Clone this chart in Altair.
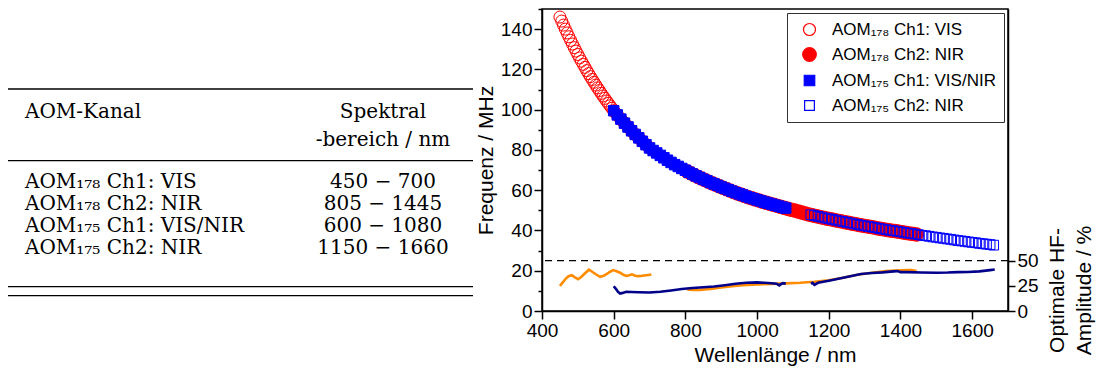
import altair as alt
import pandas as pd

# ---------------- data ----------------
series_names = [
    "AOM\u2081\u2087\u2088 Ch1: VIS",
    "AOM\u2081\u2087\u2088 Ch2: NIR",
    "AOM\u2081\u2087\u2085 Ch1: VIS/NIR",
    "AOM\u2081\u2087\u2085 Ch2: NIR",
]
range_labels = ["450 \u2212 700", "805 \u2212 1445", "600 \u2212 1080", "1150 \u2212 1660"]

# frequency (MHz) vs wavelength (nm)
vis178_nm = list(range(450, 701, 5))
vis178_mhz = [146.0, 144.0, 142.0, 140.0, 138.1, 136.2, 134.4, 132.6, 130.8, 129.1,
              127.4, 125.7, 124.1, 122.5, 121.0, 119.4, 117.9, 116.4, 115.0, 113.6,
              112.2, 110.8, 109.5, 108.1, 106.8, 105.6, 104.3, 103.1, 101.9, 100.7,
              99.5, 98.4, 97.4, 96.3, 95.3, 94.3, 93.3, 92.4, 91.4, 90.5,
              89.5, 88.6, 87.7, 86.8, 86.0, 85.1, 84.3, 83.4, 82.6, 81.8, 81.0]

nir178_nm = list(range(805, 1446, 10))
nir178_mhz = [69.3, 68.4, 67.5, 66.6, 65.8, 65.0, 64.2, 63.4, 62.7, 61.9,
              61.2, 60.5, 59.8, 59.1, 58.4, 57.8, 57.2, 56.5, 56.0, 55.4,
              54.9, 54.3, 53.8, 53.3, 52.8, 52.3, 51.8, 51.3, 50.8, 50.3,
              49.9, 49.4, 48.9, 48.4, 47.9, 47.5, 47.1, 46.7, 46.3, 45.9,
              45.6, 45.2, 44.8, 44.5, 44.1, 43.8, 43.4, 43.1, 42.7, 42.4,
              42.1, 41.8, 41.5, 41.1, 40.8, 40.5, 40.2, 39.9, 39.7, 39.4,
              39.1, 38.8, 38.5, 38.3, 38.0]

ch1_175_nm = list(range(600, 1081, 10))
ch1_175_mhz = [99.5, 97.4, 95.3, 93.3, 91.4, 89.5, 87.7, 86.0, 84.3, 82.6, 81.0,
               79.7, 78.5, 77.3, 76.1, 74.9, 73.8, 72.7, 71.8, 70.8, 69.9,
               68.9, 68.0, 67.1, 66.3, 65.4, 64.7, 63.8, 63.1, 62.4, 61.6,
               60.9, 60.2, 59.5, 58.8, 58.2, 57.6, 56.9, 56.3, 55.8, 55.2,
               54.7, 54.1, 53.6, 53.1, 52.6, 52.1, 51.6, 51.1]

ch2_175_nm = list(range(1150, 1661, 10))
ch2_175_mhz = [47.8, 47.4, 47.0, 46.6, 46.2, 45.8, 45.5, 45.1, 44.7, 44.4,
               44.0, 43.7, 43.3, 43.0, 42.6, 42.3, 42.0, 41.7, 41.4, 41.0,
               40.7, 40.4, 40.1, 39.9, 39.6, 39.3, 39.0, 38.7, 38.5, 38.2,
               37.9, 37.6, 37.4, 37.1, 36.8, 36.6, 36.3, 36.1, 35.8, 35.6,
               35.3, 35.0, 34.8, 34.6, 34.3, 34.1, 33.9, 33.6, 33.4, 33.2,
               33.0, 32.7]

threshold_mhz = 25

# optimal RF amplitude (%) vs wavelength (nm)
amp178_ch1_nm = [450, 458, 466, 474, 483, 492, 501, 510, 520, 531, 540, 550, 562, 572, 582,
                 590, 599, 608, 618, 627, 635, 643, 651, 660, 668, 676, 684, 692, 700, 705]
amp178_ch1_pct = [25.0, 28.5, 32.0, 34.5, 35.6, 33.5, 31.6, 34.0, 37.5, 41.0, 39.0, 36.5, 34.0, 35.0, 37.0,
                  39.0, 40.6, 39.5, 38.0, 36.0, 34.8, 35.5, 36.4, 35.0, 34.6, 34.8, 35.2, 35.6, 36.0, 36.2]
amp178_ch2_nm = [805, 820, 840, 870, 900, 930, 960, 1000, 1040, 1080, 1120, 1160, 1200, 1240,
                 1280, 1320, 1360, 1400, 1430, 1445]
amp178_ch2_pct = [21.4, 20.8, 21.0, 22.0, 23.4, 24.6, 25.6, 26.4, 26.8, 27.4, 28.0, 29.0, 30.6, 33.0,
                  36.0, 38.0, 39.6, 40.4, 40.6, 39.6]
amp175_ch1_nm = [600, 605, 612, 618, 625, 635, 650, 670, 700, 730, 760, 790, 820, 850, 880, 910,
                 940, 970, 1000, 1020, 1040, 1055, 1062, 1066, 1072, 1080]
amp175_ch1_pct = [24.6, 22.5, 19.0, 17.4, 18.0, 19.0, 18.8, 18.6, 18.4, 19.2, 20.4, 21.8, 22.8, 23.6, 24.4, 25.6,
                  27.0, 28.0, 28.4, 28.0, 27.6, 27.0, 25.5, 26.6, 27.6, 27.2]
amp175_ch2_nm = [1150, 1155, 1160, 1170, 1200, 1230, 1260, 1290, 1320, 1350, 1380, 1392, 1400,
                 1420, 1457, 1500, 1532, 1560, 1588, 1620, 1650, 1663]
amp175_ch2_pct = [27.2, 28.0, 26.0, 28.0, 30.0, 32.2, 34.6, 36.8, 37.8, 38.4, 39.4, 39.6, 38.6,
                  38.6, 38.2, 38.0, 38.2, 38.6, 38.8, 39.4, 40.6, 41.2]

# ---------------- tables for the library ----------------
frames = []
for name, nm, mhz in zip(series_names,
                         [vis178_nm, nir178_nm, ch1_175_nm, ch2_175_nm],
                         [vis178_mhz, nir178_mhz, ch1_175_mhz, ch2_175_mhz]):
    frames.append(pd.DataFrame({"nm": nm, "mhz": mhz, "series": name}))
pts = pd.concat(frames, ignore_index=True)
pts["idx"] = range(len(pts))

amp_frames = []
for aom, chan, nm, pct in [("178", "a", amp178_ch1_nm, amp178_ch1_pct),
                           ("178", "b", amp178_ch2_nm, amp178_ch2_pct),
                           ("175", "c", amp175_ch1_nm, amp175_ch1_pct),
                           ("175", "d", amp175_ch2_nm, amp175_ch2_pct)]:
    amp_frames.append(pd.DataFrame({"nm": nm, "pct": pct, "aom": aom, "chan": chan}))
amp = pd.concat(amp_frames, ignore_index=True)

rows = pd.DataFrame({"row": list(range(4)), "kanal": series_names, "bereich": range_labels})

# ---------------- styles ----------------
SANS = "Liberation Sans"
SERIF = "DejaVu Serif"
LBL = 19
TTL = 21
PAD_L, PAD_T = 542, 9

x_axis = alt.Axis(
    values=list(range(400, 1701, 100)), format="d",
    labelExpr="datum.value % 200 === 0 ? datum.label : ''",
    tickSize={"condition": {"test": "datum.value % 200 === 0", "value": 8}, "value": 4},
    title="Wellenl\u00e4nge / nm", labelFlush=False, labelOverlap=False, grid=False,
)
y_axis = alt.Axis(
    orient="left", values=list(range(0, 151, 10)), format="d",
    labelExpr="datum.value % 20 === 0 ? datum.label : ''",
    tickSize={"condition": {"test": "datum.value % 20 === 0", "value": 8}, "value": 4},
    title="Frequenz / MHz", labelFlush=False, labelOverlap=False, grid=False,
)
r_axis = alt.Axis(
    orient="right", values=[0, 25, 50], format="d", tickSize=7,
    title=["Optimale HF-", "Amplitude / %"], titleAngle=270, titleBaseline="top",
    titleY=281, titleX=38, titleLineHeight=27, labelFlush=False, labelOverlap=False, grid=False,
)

legend = alt.Legend(
    title=None, orient="top-right", offset=4, strokeColor="#333333", padding=8,
    labelFont=SANS, labelFontSize=17, labelColor="black", labelLimit=400,
    rowPadding=7, labelOffset=14, symbolStrokeWidth=1.2, symbolOffset=6,
)

xs = alt.X("nm:Q", scale=alt.Scale(domain=[400, 1700], nice=False), axis=x_axis)

points = alt.Chart(pts).mark_point(filled=False, opacity=1, strokeWidth=1).encode(
    x=xs,
    y=alt.Y("mhz:Q", scale=alt.Scale(domain=[0, 150], nice=False), axis=y_axis),
    fill=alt.Fill("series:N", scale=alt.Scale(domain=series_names,
                  range=["transparent", "#ff0000", "#0000ff", "transparent"]), legend=legend),
    stroke=alt.Stroke("series:N", scale=alt.Scale(domain=series_names,
                      range=["#ff0000", "#ff0000", "#0000ff", "#0000ff"]), legend=legend),
    shape=alt.Shape("series:N", scale=alt.Scale(domain=series_names,
                    range=["circle", "circle", "square", "square"]), legend=legend),
    size=alt.Size("series:N", scale=alt.Scale(type="ordinal", domain=series_names,
                  range=[144, 185, 110, 95]), legend=legend),
    order=alt.Order("idx:Q"),
)

thr = alt.Chart(pd.DataFrame({"mhz": [threshold_mhz]})).mark_rule(
    color="black", strokeDash=[7, 5], strokeWidth=1.3
).encode(y=alt.Y("mhz:Q", scale=alt.Scale(domain=[0, 150], nice=False), axis=None))

lines = alt.Chart(amp).mark_line(strokeWidth=2.6).encode(
    x=alt.X("nm:Q"),
    y=alt.Y("pct:Q", scale=alt.Scale(domain=[0, 300], nice=False), axis=r_axis),
    color=alt.Color("aom:N", scale=alt.Scale(domain=["178", "175"],
                    range=["#ff8c00", "#00008b"]), legend=None),
    detail="chan:N",
)

# ---------------- table (left of the plot, in the padding area) ----------------
def one(t):
    return pd.DataFrame({"t": [t]})

txt = dict(font=SERIF, fontSize=20, color="black", baseline="middle")
ys = alt.Y("row:Q", scale=alt.Scale(domain=[0, 3], range=[172.7, 239]), axis=None)
COL1 = 25 - PAD_L
COL2 = 383 - PAD_L

t_kanal = alt.Chart(rows).mark_text(align="left", **txt).encode(
    x=alt.value(COL1), y=ys, text="kanal:N")
t_bereich = alt.Chart(rows).mark_text(align="center", **txt).encode(
    x=alt.value(COL2), y=ys, text="bereich:N")
h1 = alt.Chart(one("AOM-Kanal")).mark_text(align="left", **txt).encode(
    x=alt.value(COL1), y=alt.value(103), text="t:N")
h2 = alt.Chart(one("Spektral")).mark_text(align="center", **txt).encode(
    x=alt.value(COL2), y=alt.value(103), text="t:N")
h3 = alt.Chart(one("-bereich / nm")).mark_text(align="center", **txt).encode(
    x=alt.value(COL2), y=alt.value(131), text="t:N")

def hrule(yv):
    return alt.Chart(one("r")).mark_rule(color="black", strokeWidth=1.3).encode(
        x=alt.value(8 - PAD_L), x2=alt.value(473 - PAD_L), y=alt.value(yv))

chart = alt.layer(
    points, thr, lines,
    hrule(80), hrule(151.7), hrule(277.7), hrule(286.7),
    h1, h2, h3, t_kanal, t_bereich,
).resolve_scale(y="independent").properties(
    width=466, height=302,
    autosize=alt.AutoSizeParams(type="none"),
    padding={"left": PAD_L, "top": PAD_T, "right": 1100 - PAD_L - 466, "bottom": 376 - PAD_T - 302},
).configure_view(stroke="black", strokeWidth=1.5).configure_axis(
    domainColor="black", domainWidth=1.5, tickColor="black", tickWidth=1.5,
    labelFont=SANS, labelFontSize=LBL, labelColor="black", labelPadding=2,
    titleFont=SANS, titleFontSize=TTL, titleFontWeight="normal", titleColor="black",
    titlePadding=4,
)

chart.save("out.html", embed_options={"renderer": "svg", "actions": False})
